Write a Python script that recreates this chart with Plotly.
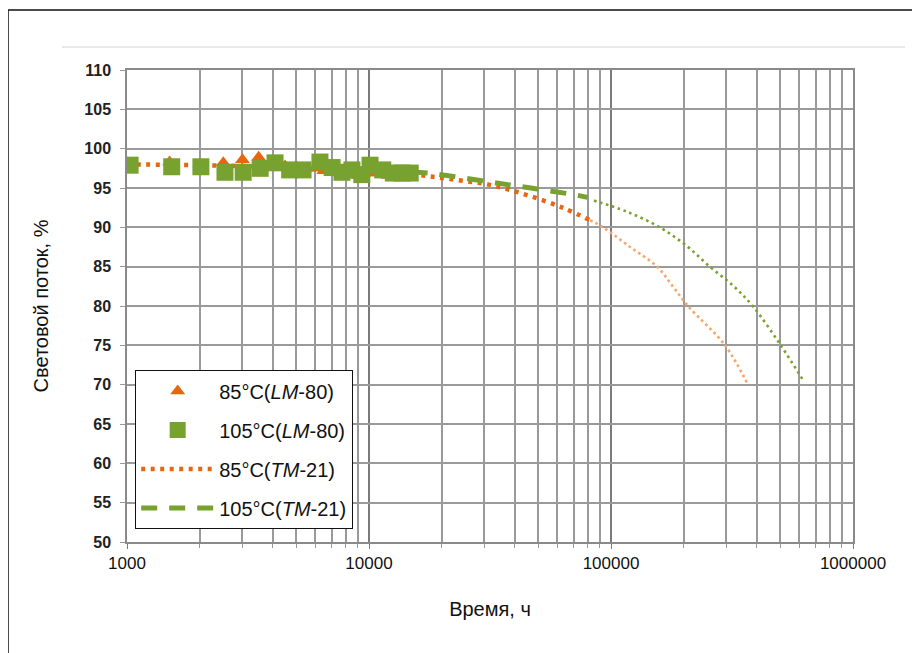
import plotly.graph_objects as go

# ---- data ----
t85_lm = [1000, 1500, 2000, 2500, 3000, 3500, 4000, 4500, 5000, 5500, 6000, 6500, 7000,
          7500, 8000, 8500, 9000, 9500, 10000, 11000, 12000, 13000, 14000]
v85_lm = [98.2, 98.3, 98.0, 98.2, 98.6, 98.9, 98.3, 97.8, 97.6, 97.5, 97.5, 97.2, 97.1,
          97.2, 97.0, 96.8, 96.6, 96.8, 96.9, 96.9, 96.6, 96.3, 96.4]

t105_lm = [1030, 1530, 2020, 2540, 3020, 3550, 4090, 4700, 5340, 6270, 7040, 7730, 8500,
           9340, 10100, 11400, 12600, 13700, 14800]
v105_lm = [97.9, 97.7, 97.7, 97.0, 97.0, 97.5, 98.2, 97.3, 97.3, 98.3, 97.6, 97.0, 97.3,
           96.7, 97.9, 97.3, 96.9, 96.9, 96.9]

t85_tm_a = [1000, 2000, 5000, 10000, 15500, 22000, 31600, 45000, 63000, 82000]
v85_tm_a = [98.0, 97.9, 97.6, 97.2, 96.7, 96.1, 95.4, 94.1, 92.5, 90.9]
t85_tm_b = [82000, 92700, 120000, 155000, 180000, 208000, 296000, 368000]
v85_tm_b = [90.9, 90.0, 87.5, 85.0, 82.5, 80.0, 75.0, 70.0]

t105_tm_a = [15000, 17500, 38000, 72000, 80000]
v105_tm_a = [97.0, 96.9, 95.4, 94.1, 93.8]
t105_tm_b = [85000, 116000, 159000, 206000, 256000, 319000, 385000, 503000, 621000]
v105_tm_b = [93.4, 92.0, 90.0, 87.6, 85.0, 82.6, 80.0, 75.0, 70.6]

x_tickvals = [1000, 10000, 100000, 1000000]
x_ticktext = ["1000", "10000", "100000", "1000000"]
y_tickvals = list(range(50, 111, 5))

ORANGE = "#E8660F"
ORANGE_L = "#F5A56E"
GREEN = "#78A22F"

fig = go.Figure()

fig.add_trace(go.Scatter(
    x=t85_tm_a, y=v85_tm_a, mode="lines", name="85°C(<i>TM</i>-21)",
    line=dict(color=ORANGE, width=4.5, dash="4px,5.5px", shape="spline", smoothing=1),
    legendgroup="c", legendrank=3))
fig.add_trace(go.Scatter(
    x=t85_tm_b, y=v85_tm_b, mode="lines", showlegend=False,
    line=dict(color=ORANGE_L, width=2.6, dash="2.6px,3.2px", shape="spline", smoothing=1)))
fig.add_trace(go.Scatter(
    x=t105_tm_a, y=v105_tm_a, mode="lines", name="105°C(<i>TM</i>-21)",
    line=dict(color=GREEN, width=5, dash="16px,12px", shape="spline", smoothing=1),
    legendgroup="d", legendrank=4))
fig.add_trace(go.Scatter(
    x=t105_tm_b, y=v105_tm_b, mode="lines", showlegend=False,
    line=dict(color=GREEN, width=2.6, dash="2.6px,3.6px", shape="spline", smoothing=1)))
fig.add_trace(go.Scatter(
    x=t85_lm, y=v85_lm, mode="markers", name="85°C(<i>LM</i>-80)",
    marker=dict(symbol="triangle-up", size=13, color=ORANGE), legendgroup="a", legendrank=1))
fig.add_trace(go.Scatter(
    x=t105_lm, y=v105_lm, mode="markers", name="105°C(<i>LM</i>-80)",
    marker=dict(symbol="square", size=17, color=GREEN), legendgroup="b", legendrank=2))

GRID = "#9a9a9a"
fig.update_xaxes(
    type="log", range=[3, 6], tickvals=x_tickvals, ticktext=x_ticktext,
    showgrid=True, gridcolor="#7a7a7a", gridwidth=1.5,
    minor=dict(dtick="D1", showgrid=True, gridcolor=GRID, gridwidth=1.5,
               ticks="outside", ticklen=4, tickcolor=GRID),
    ticks="outside", ticklen=5, tickcolor="#7a7a7a",
    showline=True, linecolor="#8a8a8a", linewidth=1.5, mirror=True,
    tickfont=dict(family="Liberation Sans Narrow, Liberation Sans, Arial", size=17, color="#111"),
    title=dict(text="Время, ч", font=dict(family="Liberation Sans, Arial", size=20, color="#111"),
               standoff=30),
    zeroline=False)
fig.update_yaxes(
    range=[50, 110], tickvals=y_tickvals,
    showgrid=True, gridcolor=GRID, gridwidth=1.5,
    ticks="outside", ticklen=5, tickcolor=GRID,
    showline=True, linecolor="#8a8a8a", linewidth=1.5, mirror=True,
    tickfont=dict(family="Liberation Sans, Arial", size=16, color="#222", weight="bold"),
    ticklabelstandoff=6,
    title=dict(text="Световой поток, %", font=dict(family="Liberation Sans, Arial", size=20, color="#111"),
               standoff=30),
    zeroline=False)

fig.update_layout(
    width=920, height=653,
    margin=dict(l=119, r=75, t=62, b=119),
    paper_bgcolor="white", plot_bgcolor="white",
    showlegend=True,
    legend=dict(
        x=0.011, y=0.364, xanchor="left", yanchor="top",
        bgcolor="white", bordercolor="#111", borderwidth=1.2,
        font=dict(family="Liberation Sans, Arial", size=20, color="#111"),
        tracegroupgap=10, traceorder="grouped",
        itemwidth=73,
    ),
    shapes=[
        dict(type="rect", xref="paper", yref="paper",
             x0=(8 - 127) / 726, x1=(940 - 127) / 726,
             y0=(542 - 680) / 472, y1=(542 - 10) / 472,
             line=dict(color="#111", width=1.5), layer="below"),
        dict(type="line", xref="paper", yref="paper",
             x0=(62 - 127) / 726, x1=(905 - 127) / 726,
             y0=(542 - 47) / 472, y1=(542 - 47) / 472,
             line=dict(color="#d4d4d4", width=1.2)),
    ],
)

fig.write_html("out.html")
